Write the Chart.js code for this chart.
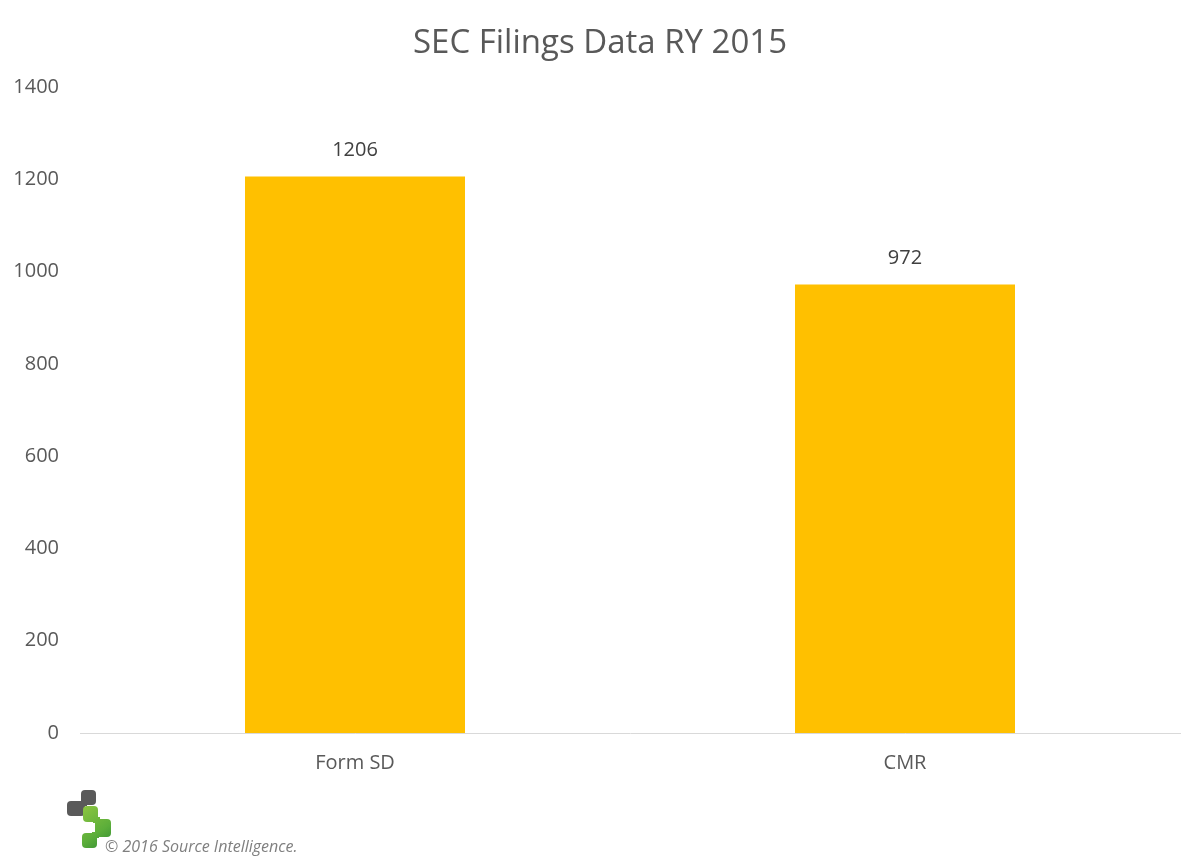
<!DOCTYPE html>
<html>
<head>
<meta charset="utf-8">
<title>SEC Filings Data RY 2015</title>
<script src="https://cdn.jsdelivr.net/npm/chart.js@4"></script>
<style>
  html, body { margin: 0; padding: 0; background: #fff; }
  #wrap { width: 1200px; height: 867px; position: relative; }
</style>
</head>
<body>
<div id="wrap"><canvas id="chart" width="1200" height="867"></canvas></div>
<script>
// data
const categories = ["Form SD", "CMR"];
const filings = [1206, 972];
const yTicks = [0, 200, 400, 600, 800, 1000, 1200, 1400];

const FONT = "'Open Sans', 'Liberation Sans', sans-serif";
const GREY = "#595959";

// value labels above bars
const barLabels = {
    id: "barLabels",
    afterDatasetsDraw(chart) {
        const ctx = chart.ctx;
        const meta = chart.getDatasetMeta(0);
        ctx.save();
        ctx.font = "20px " + FONT;
        ctx.fillStyle = "#404040";
        ctx.textAlign = "center";
        ctx.textBaseline = "middle";
        meta.data.forEach((bar, i) => {
            ctx.fillText(String(filings[i]), bar.x, bar.y - 26);
        });
        ctx.restore();
    }
};

// small logo + copyright line under the chart
function rr(ctx, x, y, w, h, r) {
    ctx.beginPath();
    ctx.roundRect(x, y, w, h, r);
    ctx.fill();
}
const footer = {
    id: "footer",
    afterDraw(chart) {
        const ctx = chart.ctx;
        ctx.save();
        // grey step
        ctx.fillStyle = "#5a5a5a";
        rr(ctx, 81, 790, 15, 15, 4);
        rr(ctx, 67, 801, 18, 15, 4);
        ctx.fillRect(81, 800, 6, 6);
        // green arrow
        const g = ctx.createLinearGradient(82, 806, 112, 848);
        g.addColorStop(0, "#8dc641");
        g.addColorStop(0.6, "#5cae3a");
        g.addColorStop(1, "#2f8a33");
        ctx.fillStyle = g;
        rr(ctx, 83, 806, 15, 16, 4);
        rr(ctx, 95, 819, 16, 18, 4);
        rr(ctx, 82, 833, 15, 15, 4);
        ctx.fillRect(93, 817, 7, 6);
        ctx.fillRect(92, 832, 7, 6);
        ctx.fillStyle = "#7f7f7f";
        ctx.font = "italic 16px " + FONT;
        ctx.textBaseline = "alphabetic";
        ctx.fillText("\u00A9 2016 Source Intelligence.", 105, 852);
        ctx.restore();
    }
};

new Chart(document.getElementById("chart"), {
    type: "bar",
    data: {
        labels: categories,
        datasets: [{
            label: "Filings",
            data: filings,
            backgroundColor: "#FFC000",
            borderWidth: 0,
            categoryPercentage: 1,
            barPercentage: 0.4
        }]
    },
    options: {
        responsive: false,
        animation: false,
        layout: { padding: 0 },
        plugins: {
            legend: { display: false },
            tooltip: { enabled: false },
            title: {
                display: true,
                text: "SEC Filings Data RY 2015",
                color: GREY,
                font: { family: FONT, size: 33, weight: "normal", lineHeight: 1.2 },
                padding: { top: 24, bottom: 23.4 }
            }
        },
        scales: {
            x: {
                grid: { display: false, drawTicks: false },
                border: { display: true, color: "#d9d9d9", width: 1 },
                ticks: { color: GREY, font: { family: FONT, size: 20 }, padding: 18 },
                afterFit(scale) { scale.height = 134; }
            },
            y: {
                min: 0,
                max: 1400,
                grid: { display: false, drawTicks: false },
                border: { display: false },
                afterBuildTicks(scale) { scale.ticks = yTicks.map(v => ({ value: v })); },
                ticks: {
                    color: GREY,
                    font: { family: FONT, size: 20 },
                    padding: 21,
                    callback: v => String(v)
                },
                afterFit(scale) { scale.width = 80; }
            },
            // empty right margin so the title stays centred on the page
            spacer: {
                position: "right",
                grid: { display: false, drawTicks: false },
                border: { display: false },
                ticks: { display: false },
                afterFit(scale) { scale.width = 20; }
            }
        }
    },
    plugins: [barLabels, footer]
});
</script>
</body>
</html>
